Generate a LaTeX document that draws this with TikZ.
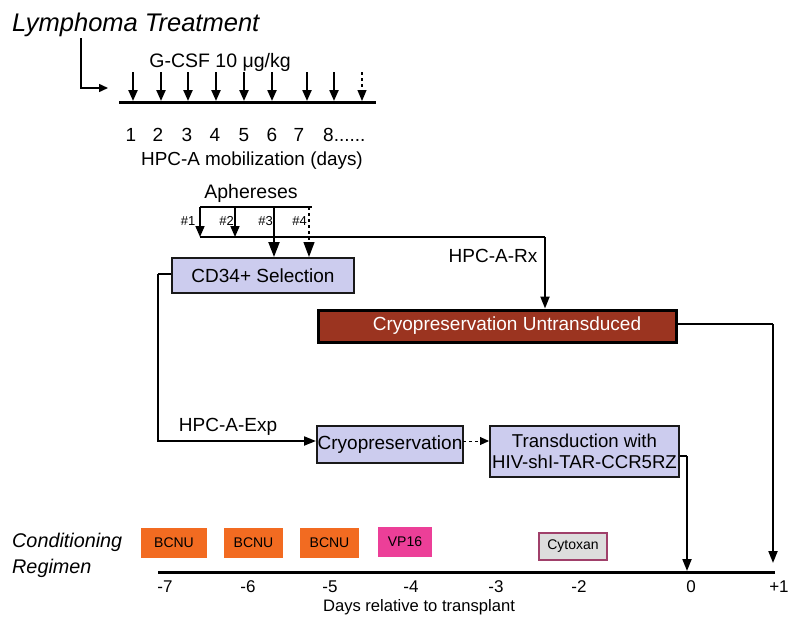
\documentclass[tikz,border=0pt]{standalone}
\usepackage{fontspec}
\setmainfont{Liberation Sans}
\usetikzlibrary{arrows.meta}
\definecolor{lav}{RGB}{204,204,238}
\definecolor{brick}{RGB}{155,52,32}
\definecolor{orng}{RGB}{242,107,33}
\definecolor{pnk}{RGB}{236,63,152}
\definecolor{cyt}{RGB}{221,221,221}
\definecolor{cytb}{RGB}{160,64,106}
\begin{document}
\begin{tikzpicture}[x=1pt,y=-1pt,
  fs/.style={font=\fontsize{#1}{#1}\selectfont},
  txt/.style={anchor=base,inner sep=0pt,fs=#1},
  txt/.default=19,
  lbox/.style={draw=black!90,line width=2pt,fill=lav,inner sep=0pt,fs=19},
  dbox/.style={fill=#1,inner sep=0pt,fs=14,minimum height=30},
  sarrow/.style={line width=2.2pt,-{Triangle[length=11pt,width=9pt]}},
  barrow/.style={line width=2.2pt,-{Triangle[length=15pt,width=11pt]}},
  marrow/.style={line width=2pt,-{Triangle[length=12pt,width=9pt]}},
  thinarrow/.style={line width=1.5pt,-{Triangle[length=9pt,width=8pt]}},
  axis/.style={line width=3pt}
]
\useasboundingbox (0,0) rectangle (800,624);

% ---------- top: mobilization ----------
\node[txt=25.5,anchor=base west,font=\fontsize{25.5}{25.5}\selectfont\itshape] (lt) at (12,31) {Lymphoma Treatment};
\node[txt=19.5] (gcsf) at (220,67) {G-CSF 10 μg/kg};
\coordinate (e0) at (81,38);
\coordinate (t0) at (119,102);
\coordinate (t1) at (376,102);
\coordinate (e1) at (108,88);
\draw[thinarrow] (e0) |- (e1);
\draw[axis] (t0) -- (t1);
\foreach \x [count=\i] in {133,161,188,216,244,272,307,334}{
  \coordinate (ga\i) at (\x,72);
  \coordinate (gb\i) at (\x,101);
  \draw[sarrow] (ga\i) -- (gb\i);
}
\coordinate (ga9) at (362,72);
\coordinate (gb9) at (362,101);
\draw[sarrow,dashed,line width=1.2pt] (ga9) -- (gb9);
\foreach \x/\t in {131/1,158/2,187/3,215/4,244/5,272/6,299/7}{
  \node[txt] at (\x,141) {\t};
}
\node[txt,anchor=base west] (d8) at (323,141) {8......};
\node[txt=18.9] (mob) at (252,165) {HPC-A mobilization (days)};

% ---------- aphereses ----------
\node[txt=19.5] (aph) at (251,198) {Aphereses};
\node[txt=13] (h1) at (188,225) {\#1};
\node[txt=13] (h2) at (226.5,225) {\#2};
\node[txt=13] (h3) at (265.5,225) {\#3};
\node[txt=13] (h4) at (299.5,225) {\#4};
\coordinate (a0) at (200,207);
\coordinate (a1) at (312,207);
\draw[line width=2pt] (a0) -- (a1);
\coordinate (a2) at (235,207);
\coordinate (a3) at (274,207);
\coordinate (a4) at (309,207);
\coordinate (r0) at (200,237);
\coordinate (r2) at (235,237);
\coordinate (r1) at (545,237);
\draw[sarrow,line width=1.6pt] (a0) -- (r0);
\draw[sarrow,line width=1.6pt] (a2) -- (r2);
\draw[line width=2pt] (r0) -- (r1);

% ---------- boxes ----------
\node[lbox,minimum width=182,minimum height=35] (cd) at (263,275.5) {CD34+ Selection};
\node[draw=black,line width=3pt,fill=brick,text=white,inner sep=0pt,fs=19,
      minimum width=358,minimum height=32] (cu) at (497,326) {\hspace*{20pt}Cryopreservation Untransduced};
\node[lbox,minimum width=146,minimum height=37] (cp) at (390,444.5) {Cryopreservation};
\node[lbox,minimum width=189,minimum height=51,fs=18.6,align=center] (tr) at (584.5,451.5)
  {Transduction with\\[3pt]HIV-shI-TAR-CCR5RZ};

\draw[barrow] (a3) -- (a3 |- cd.north);
\draw[barrow,dashed,line width=1.2pt] (a4) -- (a4 |- cd.north);
\draw[marrow] (r1) -- (cu.north -| r1);
\node[txt] (rx) at (493,262) {HPC-A-Rx};

\coordinate (x0) at (158,274);
\draw[line width=2pt] (cd.west |- x0) -- (x0);
\coordinate (x1) at (158,441);
\draw[marrow] (x0) -- (x1) -- (x1 -| cp.west);
\node[txt] (exp) at (228,431) {HPC-A-Exp};
\coordinate (c0) at (463,441);
\draw[thinarrow,dashed,line width=1pt] (c0) -- (c0 -| tr.west);

% ---------- conditioning ----------
\node[txt=19.5,anchor=base west,font=\fontsize{19.8}{19.8}\selectfont\itshape] (cond) at (12,547) {Conditioning};
\node[txt=19.5,anchor=base west,font=\fontsize{19.8}{19.8}\selectfont\itshape] (reg) at (12,573) {Regimen};
\node[dbox=orng,minimum width=66] (b1) at (174,543) {BCNU};
\node[dbox=orng,minimum width=59] (b2) at (253.5,543) {BCNU};
\node[dbox=orng,minimum width=59] (b3) at (329.5,543) {BCNU};
\node[dbox=pnk,minimum width=54] (vp) at (405,542) {VP16};
\node[draw=cytb,line width=2.5pt,fill=cyt,inner sep=0pt,fs=14,minimum width=68,minimum height=27] (cy) at (573,546.5) {Cytoxan};

\coordinate (b0) at (158,572);
\coordinate (bz) at (775,572);
\draw[axis] (b0) -- (bz);
\foreach \x/\t in {165/-7,248/-6,330/-5,411/-4,496/-3,579/-2,691/0,779/+1}{
  \node[txt=17] at (\x,592) {\t};
}
\node[txt=16.6] (days) at (419,611) {Days relative to transplant};

% ---------- arrows to day 0 and +1 ----------
\coordinate (z1) at (687,456);
\coordinate (z0) at (687,571);
\draw[line width=2pt] (tr.east |- z1) -- (z1);
\draw[marrow] (z1) -- (z0);
\coordinate (p1) at (773,324);
\coordinate (p0) at (773,563);
\draw[line width=2pt] (cu.east |- p1) -- (p1);
\draw[marrow] (p1) -- (p0);
\end{tikzpicture}
\end{document}
